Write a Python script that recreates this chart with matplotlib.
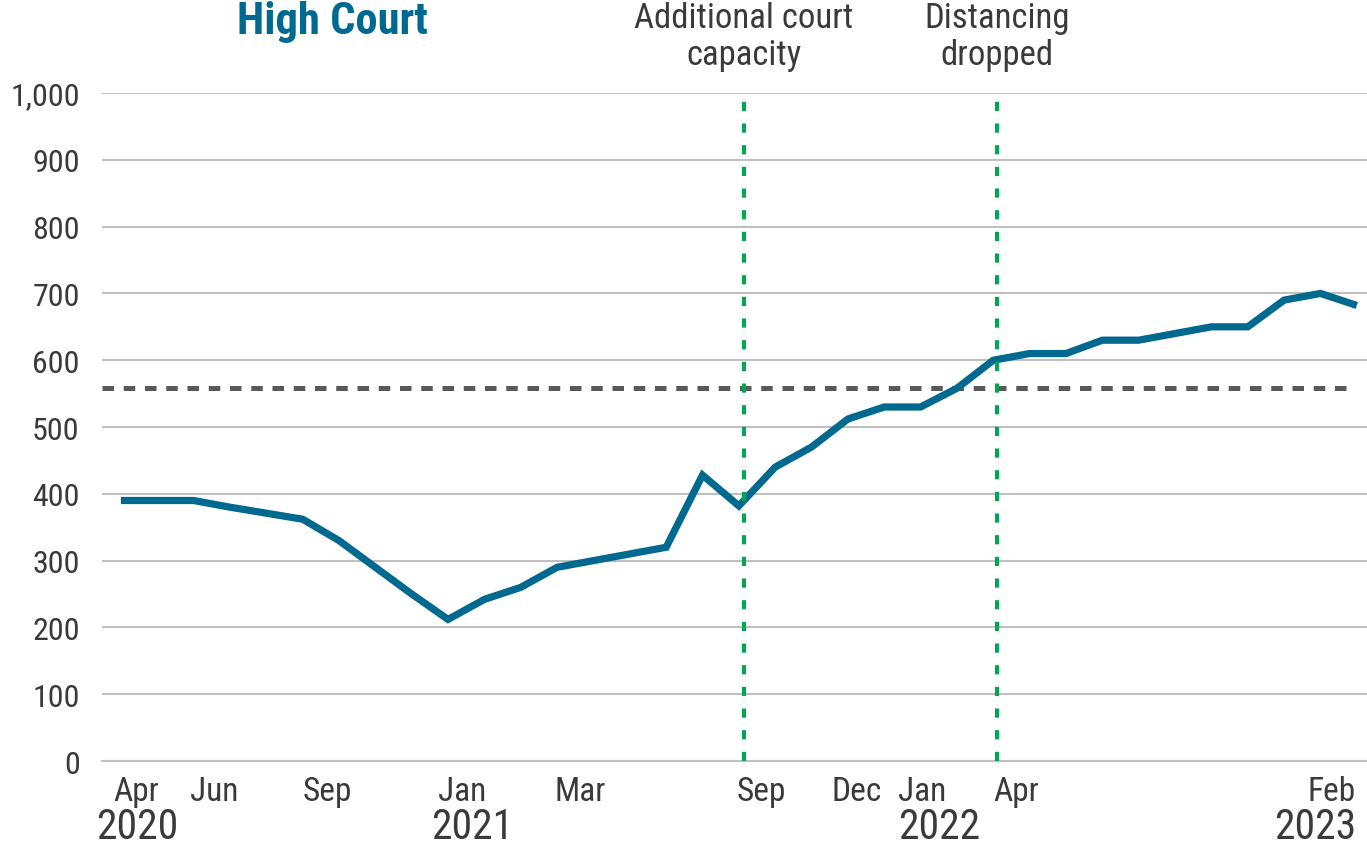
import matplotlib
matplotlib.use("Agg")
import matplotlib.pyplot as plt
import matplotlib.transforms as mtransforms
import numpy as np
import pandas as pd

# monthly values, Apr 2020 .. Feb 2023
months = pd.date_range("2020-04-01", periods=35, freq="MS")
values = [390, 390, 390, 380, 371, 362, 330, 290, 250, 212, 242, 260,
          290, 300, 310, 320, 428, 382, 440, 470, 512, 530, 530, 558,
          600, 610, 610, 630, 630, 640, 650, 650, 690, 700, 682]
average = 558

events = ["Additional court\ncapacity", "Distancing\ndropped"]
event_x = [17.14, 24.10]

month_labels = ["Apr", "Jun", "Sep", "Jan", "Mar", "Sep", "Dec", "Jan", "Apr", "Feb"]
month_pos = [0.41, 2.56, 5.67, 9.38, 12.63, 17.63, 20.25, 22.04, 24.62, 33.98]
year_labels = ["2020", "2021", "2022", "2023"]
year_pos = [0.44, 9.66, 22.5, 33.98]

TEAL = "#00698f"
GREEN = "#00a651"
TEXT = "#3a3a3a"
FONT = ["Liberation Sans Narrow", "Roboto Condensed", "Liberation Sans", "DejaVu Sans"]

plt.rcParams["font.family"] = FONT

fig = plt.figure(figsize=(13.67, 8.54), dpi=100)
ax = fig.add_axes([0.0746, 0.1077, 0.9254, 0.7822])

x = np.arange(len(months))
ax.plot(x, values, color=TEAL, lw=5.2, solid_joinstyle="miter",
        solid_capstyle="butt", zorder=4)

ax.axhline(average, xmin=0.0, xmax=0.99, color="#595959", lw=3.6,
           dashes=(2.3, 1.95), zorder=3)

for label, ex in zip(events, event_x):
    ax.axvline(ex, color=GREEN, lw=3, dashes=(2.2, 3.0), zorder=5)
    ax.text(ex, 1.0 + 57 / 668, label, transform=ax.get_xaxis_transform(),
            ha="center", va="center", fontsize=25, color=TEXT,
            linespacing=1.15, clip_on=False)

ax.set_xlim(-0.52, 34.28)
ax.set_ylim(0, 1000)
ax.set_yticks(range(0, 1001, 100))
ax.set_yticklabels([f"{v:,}" for v in range(0, 1001, 100)])
ax.yaxis.grid(True, color="#c0c0c0", lw=1.5)
ax.set_axisbelow(True)

ax.set_xticks(month_pos)
ax.set_xticklabels(month_labels)
for lbl in ax.get_xticklabels()[-1:]:
    lbl.set_horizontalalignment("right")
ax.tick_params(axis="x", length=0, pad=10, labelsize=24, labelcolor=TEXT)
ax.tick_params(axis="y", length=0, pad=16, labelsize=23, labelcolor=TEXT)

for s in ["top", "right", "left"]:
    ax.spines[s].set_visible(False)
ax.spines["bottom"].set_color("#c0c0c0")
ax.spines["bottom"].set_linewidth(1.5)

trans = mtransforms.blended_transform_factory(ax.transData, fig.transFigure)
for i, (lbl, xp) in enumerate(zip(year_labels, year_pos)):
    ax.text(xp, 1 - 828 / 854, lbl, transform=trans,
            ha="right" if i == len(year_labels) - 1 else "center",
            va="center", fontsize=30, color=TEXT, clip_on=False)

fig.text(332 / 1367, 1 - 22 / 854, "High Court", ha="center", va="center",
         fontsize=32, fontweight="bold", color=TEAL)

fig.savefig("out.png", dpi=100)
